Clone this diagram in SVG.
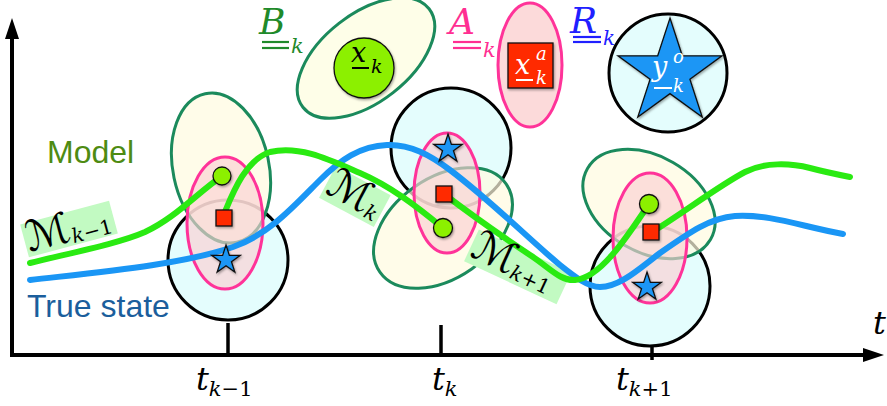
<svg xmlns="http://www.w3.org/2000/svg" width="887" height="406" viewBox="0 0 887 406">
<style>
.cyan{fill:#e4fdfd;stroke:#000;stroke-width:3}
.bel{fill:#fffbe0;fill-opacity:.7;stroke:#1b8a5c;stroke-width:3}
.pel{fill:#fbd0d2;fill-opacity:.65;stroke:#ff3399;stroke-width:3}
.gdot{fill:#8cf000;stroke:#111;stroke-width:1.3}
.rsq{fill:#ff2a00;stroke:#111;stroke-width:1.3}
.star{fill:#1a96f5;stroke:#111;stroke-width:1.3}
.green{fill:none;stroke:#2aea12;stroke-width:6;stroke-linecap:round}
.blue{fill:none;stroke:#1a96f5;stroke-width:6;stroke-linecap:round}
.mlab{fill:#c2fac2}
.math{font-family:'DejaVu Serif',serif;font-style:italic}
.up{font-style:normal}
.cal{font-family:'DejaVu Serif','DejaVu Sans',serif;font-style:normal}
.sans{font-family:'Liberation Sans',Arial,sans-serif}
.ax{stroke:#000;stroke-width:4;fill:none}
.tick{stroke:#000;stroke-width:3.5}
</style>
<defs>
<path id="star15" d="M0,-15 L3.37,-4.64 L14.27,-4.64 L5.45,1.77 L8.82,12.14 L0,5.73 L-8.82,12.14 L-5.45,1.77 L-14.27,-4.64 L-3.37,-4.64 Z"/>
<filter id="sh" x="-30%" y="-30%" width="160%" height="160%"><feDropShadow dx="1" dy="1.5" stdDeviation="1.2" flood-opacity="0.35"/></filter>
</defs>

<g id="axes">
<line class="ax" x1="12" y1="357" x2="12" y2="36"/>
<polygon points="12,18 5,39 19,39" fill="#000"/>
<line class="ax" x1="10" y1="355" x2="866" y2="355"/>
<polygon points="884,355 863,348 863,362" fill="#000"/>
<line class="tick" x1="228" y1="323" x2="228" y2="355"/>
<line class="tick" x1="441" y1="325" x2="441" y2="355"/>
<line class="tick" x1="652" y1="327" x2="652" y2="360"/>
<text class="math" x="196" y="390" font-size="32">t<tspan font-size="21" dy="6">k</tspan><tspan class="up" font-size="21">−1</tspan></text>
<text class="math" x="432" y="390" font-size="32">t<tspan font-size="21" dy="6">k</tspan></text>
<text class="math" x="616" y="390" font-size="32">t<tspan font-size="21" dy="6">k</tspan><tspan class="up" font-size="21">+1</tspan></text>
<text class="math" x="873" y="334" font-size="32">t</text>
</g>

<g id="legend-B">
<ellipse cx="366" cy="58" rx="80" ry="44" transform="rotate(-38 366 58)" fill="#fefee8" stroke="#1b8a5c" stroke-width="3"/>
<text class="math" x="259" y="34" font-size="36" fill="#1f8a2a">B</text>
<line x1="262" y1="42" x2="289" y2="42" stroke="#1f8a2a" stroke-width="2.2"/>
<line x1="262" y1="48" x2="289" y2="48" stroke="#1f8a2a" stroke-width="2.2"/>
<text class="math" x="291" y="53" font-size="21" fill="#1f8a2a">k</text>
<circle class="gdot" cx="364" cy="68" r="30" filter="url(#sh)"/>
<text class="math" x="351" y="62" font-size="27">x</text>
<line x1="352" y1="68" x2="369" y2="68" stroke="#000" stroke-width="2"/>
<text class="math" x="371" y="73" font-size="19">k</text>
</g>
<g id="legend-A">
<ellipse cx="530" cy="65" rx="32" ry="62" fill="#fcdada" stroke="#ff3399" stroke-width="3"/>
<text class="math" x="449" y="34" font-size="36" fill="#ff2f92">A</text>
<line x1="453" y1="42" x2="481" y2="42" stroke="#ff2f92" stroke-width="2.2"/>
<line x1="453" y1="48" x2="481" y2="48" stroke="#ff2f92" stroke-width="2.2"/>
<text class="math" x="483" y="57" font-size="21" fill="#ff2f92">k</text>
<rect class="rsq" x="508" y="43" width="45" height="45" filter="url(#sh)"/>
<text class="math" x="515" y="74" font-size="27" fill="#fff">x</text>
<line x1="516" y1="80" x2="533" y2="80" stroke="#fff" stroke-width="2"/>
<text class="math" x="536" y="60" font-size="18" fill="#fff">a</text>
<text class="math" x="536" y="84" font-size="18" fill="#fff">k</text>
</g>
<g id="legend-R">
<text class="math" x="570" y="33" font-size="36" fill="#2020ff">R</text>
<line x1="573" y1="37" x2="601" y2="37" stroke="#2020ff" stroke-width="2.2"/>
<line x1="573" y1="42" x2="601" y2="42" stroke="#2020ff" stroke-width="2.2"/>
<text class="math" x="603" y="45" font-size="20" fill="#2020ff">k</text>
<circle class="cyan" cx="668" cy="73" r="59"/>
<path class="star" d="M670,18 L682.3,55.8 L722,55.8 L689.9,79.2 L702.2,117 L670,93.6 L637.8,117 L650.1,79.2 L618,55.8 L657.7,55.8 Z" filter="url(#sh)"/>
<text class="math" x="652" y="76" font-size="27" fill="#fff">y</text>
<line x1="654" y1="88" x2="672" y2="88" stroke="#fff" stroke-width="2"/>
<text class="math" x="673" y="63" font-size="18" fill="#fff">o</text>
<text class="math" x="673" y="92" font-size="18" fill="#fff">k</text>
</g>

<g id="node-tkm1">
<circle class="cyan" cx="228" cy="260" r="60"/>
<ellipse class="bel" cx="221" cy="168" rx="48" ry="76" transform="rotate(-12 221 168)"/>
<ellipse class="pel" cx="225" cy="223" rx="38" ry="66"/>
</g>
<g id="node-tk">
<circle class="cyan" cx="451" cy="148" r="60"/>
<ellipse class="bel" cx="443" cy="228" rx="77" ry="50" transform="rotate(-35 443 228)"/>
<ellipse class="pel" cx="447" cy="193" rx="33" ry="60"/>
</g>
<g id="node-tkp1">
<circle class="cyan" cx="650" cy="286" r="60"/>
<ellipse class="bel" cx="649" cy="204" rx="71" ry="48" transform="rotate(30 649 204)"/>
<ellipse class="pel" cx="650" cy="238" rx="37" ry="65"/>
</g>

<g id="labels-bg">
<rect class="mlab" x="-46" y="-17" width="92" height="34" transform="translate(69 229) rotate(-15)"/>
<rect class="mlab" x="-30" y="-18" width="62" height="36" transform="translate(354 196) rotate(28)"/>
<rect class="mlab" x="-50" y="-17" width="102" height="35" transform="translate(517 266) rotate(25)"/>
</g>

<g id="connectors">
<path class="blue" d="M30,280 C100,272 180,265 233,247 C270,234 295,205 320,180 C340,160 360,146 387,145 C410,144 430,155 450,170 C490,200 530,240 560,265 C575,277 588,287 600,287 C620,287 640,268 660,253 C690,232 710,218 735,216 C770,214 800,226 843,234"/>
<path class="green" d="M30,263 C75,252 120,243 145,232 C175,218 195,195 222,176"/>
<path class="green" d="M224,214 C232,195 245,160 270,152 C300,145 330,160 360,173 C390,186 415,205 443,228"/>
<path class="green" d="M444,194 C465,210 500,235 530,255 C550,268 560,281 575,280 C600,278 625,240 649,204"/>
<path class="green" d="M652,232 C680,215 720,185 745,172 C765,162 790,163 810,168 C825,172 840,175 850,177"/>
</g>

<g id="state-tkm1" filter="url(#sh)">
<circle class="gdot" cx="222" cy="176" r="9"/>
<rect class="rsq" x="216" y="210" width="16" height="16"/>
<use href="#star15" class="star" x="226" y="260"/>
</g>
<g id="state-tk" filter="url(#sh)">
<use href="#star15" class="star" x="448" y="149"/>
<rect class="rsq" x="436" y="186" width="16" height="16"/>
<circle class="gdot" cx="443" cy="228" r="9.5"/>
</g>
<g id="state-tkp1" filter="url(#sh)">
<circle class="gdot" cx="649" cy="204" r="9.5"/>
<rect class="rsq" x="643" y="224" width="16" height="16"/>
<use href="#star15" class="star" x="647" y="287"/>
</g>

<g id="labels">
<text class="sans" x="47" y="163" font-size="32" fill="#4e8b12">Model</text>
<text class="sans" x="27" y="317" font-size="32" fill="#1b5e9c">True state</text>
<text class="math" transform="translate(69 229) rotate(-15)" x="-44" y="12" font-size="42"><tspan class="cal">ℳ</tspan><tspan font-size="20" dy="3">k</tspan><tspan class="up" font-size="20">−1</tspan></text>
<text class="math" transform="translate(354 196) rotate(28)" x="-28" y="11" font-size="42"><tspan class="cal">ℳ</tspan><tspan font-size="20" dy="3">k</tspan></text>
<text class="math" transform="translate(517 266) rotate(25)" x="-48" y="11" font-size="42"><tspan class="cal">ℳ</tspan><tspan font-size="20" dy="3">k</tspan><tspan class="up" font-size="20">+1</tspan></text>
</g>
</svg>
